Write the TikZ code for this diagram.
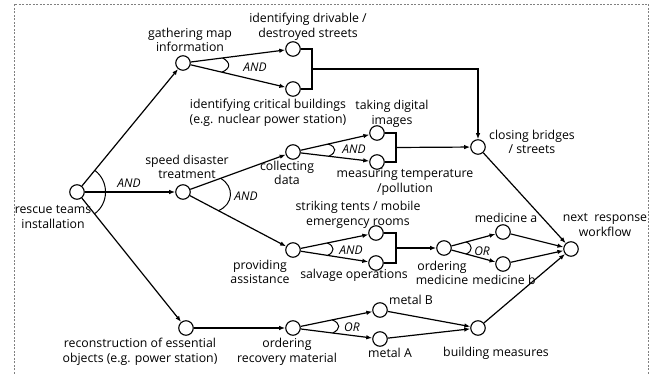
\documentclass[tikz,border=0pt]{standalone}
\usepackage{fontspec}
\setmainfont{Open Sans}
\usetikzlibrary{arrows.meta,calc}
\newcommand\forkarc[6]{\draw[arcline] ($(#1)!#4!(#2)$) .. controls ($(#1)!#5!-#6:(#2)$) and ($(#1)!#5!#6:(#3)$) .. ($(#1)!#4!(#3)$);}
\begin{document}
\begin{tikzpicture}[x=1pt,y=1pt,
  st/.style={circle,draw,line width=1.1pt,minimum size=14.5pt,inner sep=0pt,fill=white},
  lbl/.style={align=center,font=\fontsize{12.3}{14.5}\selectfont,inner sep=0pt},
  op/.style={font=\fontsize{12}{14}\selectfont\itshape,inner sep=0pt},
  edge/.style={line width=1.2pt,-{Latex[length=6pt,width=4.5pt]}},
  plain/.style={line width=1.2pt},
  arcline/.style={line width=1pt}]
\useasboundingbox (0,0) rectangle (661,374);
\draw[gray,dash pattern=on 2pt off 1.5pt,line width=0.6pt] (14,0) -- (14,370) -- (648,370) -- (648,0);

% states
\node[st] (rescue)  at (77,182) {};
\node[st] (gather)  at (183,311) {};
\node[st] (drive)   at (293,325) {};
\node[st] (crit)    at (293,285) {};
\node[st] (speed)   at (183,182) {};
\node[st] (collect) at (293,222) {};
\node[st] (photo)   at (377,241) {};
\node[st] (measure) at (377,212) {};
\node[st] (closing) at (478,227) {};
\node[st] (provide) at (293,124) {};
\node[st] (tents)   at (376,141) {};
\node[st] (salvage) at (376,111) {};
\node[st] (ordmed)  at (444,126) {};
\node[st] (meda)    at (503,142) {};
\node[st] (medb)    at (503,110) {};
\node[st] (next)    at (571,125) {};
\node[st] (recon)   at (186,46) {};
\node[st] (ordrec)  at (293,46) {};
\node[st] (metalB)  at (380,64) {};
\node[st] (metalA)  at (380,35) {};
\node[st] (build)   at (478,46) {};

\coordinate (b1) at (312,305);
\coordinate (b2) at (396,226.5);
\coordinate (b3) at (396,126);

% labels
\node[lbl] (lgather)  at (190,334) {gathering map\\information};
\node[lbl] (ldrive)   at (308,347) {identifying drivable /\\destroyed streets};
\node[lbl] (lcrit)    at (268,261) {identifying critical buildings\\(e.g. nuclear power station)};
\node[lbl] (lphoto)   at (392,260) {taking digital\\images};
\node[lbl] (lcollect) at (287,201) {collecting\\data};
\node[lbl] (lspeed)   at (187,207) {speed disaster\\treatment};
\node[lbl] (lmeasure) at (405,192) {measuring temperature\\/pollution};
\node[lbl] (lclosing) at (532,232) {closing bridges\\/ streets};
\node[lbl] (lrescue)  at (53,157) {rescue teams\\installation};
\node[lbl] (ltents)   at (358,159) {striking tents / mobile\\emergency rooms};
\node[lbl] (lprovide) at (260,102) {providing\\assistance};
\node[lbl] (lsalvage) at (354,99) {salvage operations};
\node[lbl] (lordmed)  at (442,101) {ordering\\medicine};
\node[lbl] (lmeda)    at (506,156) {medicine a};
\node[lbl] (lmedb)    at (504,94) {medicine b};
\node[lbl] (lnext)    at (605,149) {next\ \ response\\workflow};
\node[lbl] (lmetalB)  at (411,74) {metal B};
\node[lbl] (lmetalA)  at (390,21) {metal A};
\node[lbl] (lbuild)   at (496,21) {building measures};
\node[lbl] (lrecon)   at (140,22) {reconstruction of essential\\objects (e.g. power station)};
\node[lbl] (lordrec)  at (287,22) {ordering\\recovery material};

\node[op] (and1) at (129,191) {AND};
\node[op] (and2) at (246,178) {AND};
\node[op] (and3) at (255,307) {AND};
\node[op] (and4) at (354,225) {AND};
\node[op] (and5) at (351,124) {AND};
\node[op] (or1)  at (482,123) {OR};
\node[op] (or2)  at (352,47) {OR};

% connectors
\draw[edge] (rescue) -- (gather);
\draw[edge] (rescue) -- (speed);
\draw[edge] (rescue) -- (recon);
\draw[edge] (gather) -- (drive);
\draw[edge] (gather) -- (crit);
\draw[edge] (speed) -- (collect);
\draw[edge] (speed) -- (provide);
\draw[edge] (collect) -- (photo);
\draw[edge] (collect) -- (measure);
\draw[edge] (provide) -- (tents);
\draw[edge] (provide) -- (salvage);
\draw[edge] (ordmed) -- (meda);
\draw[edge] (ordmed) -- (medb);
\draw[edge] (meda) -- (next);
\draw[edge] (medb) -- (next);
\draw[edge] (closing) -- (next);
\draw[edge] (build) -- (next);
\draw[edge] (recon) -- (ordrec);
\draw[edge] (ordrec) -- (metalB);
\draw[edge] (ordrec) -- (metalA);
\draw[edge] (metalB) -- (build);
\draw[edge] (metalA) -- (build);

\draw[plain] (drive.east) -- (drive.east -| b1) -- (crit.east -| b1) -- (crit.east);
\draw[edge] (b1) -| (closing);
\draw[plain] (photo.east) -- (photo.east -| b2) -- (measure.east -| b2) -- (measure.east);
\draw[edge] (b2) -- (closing);
\draw[plain] (tents.east) -- (tents.east -| b3) -- (salvage.east -| b3) -- (salvage.east);
\draw[edge] (b3) -- (ordmed);

% operator arcs
\forkarc{rescue}{gather}{recon}{28pt}{34pt}{32}
\forkarc{speed}{collect}{provide}{40pt}{52pt}{14}
\forkarc{gather}{drive}{crit}{40pt}{48pt}{7}
\forkarc{collect}{photo}{measure}{36pt}{44pt}{6}
\forkarc{provide}{tents}{salvage}{35pt}{42pt}{6}
\forkarc{ordmed}{meda}{medb}{23pt}{29pt}{9}
\forkarc{ordrec}{metalB}{metalA}{40pt}{48pt}{6}
\end{tikzpicture}
\end{document}
